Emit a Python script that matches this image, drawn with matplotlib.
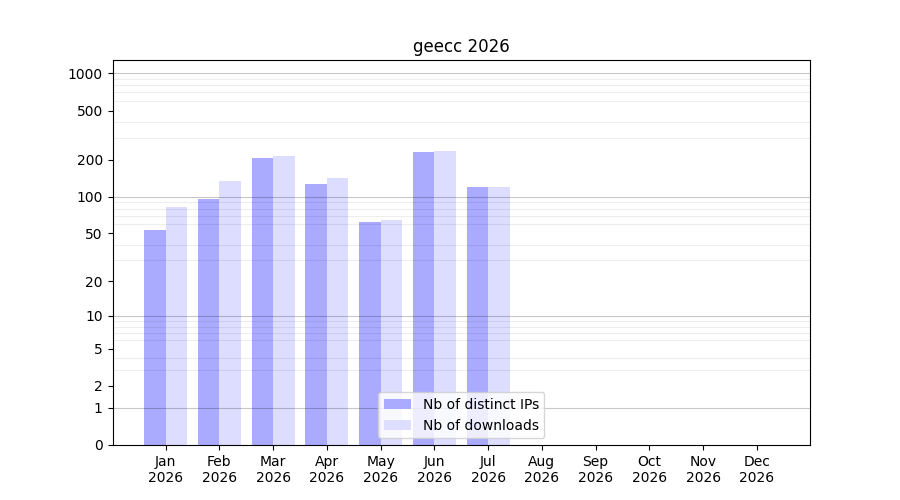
import numpy as np
import matplotlib
matplotlib.use("Agg")
import matplotlib.pyplot as plt
from matplotlib.ticker import FixedLocator, FixedFormatter, NullFormatter

months = ["Jan", "Feb", "Mar", "Apr", "May", "Jun", "Jul", "Aug", "Sep", "Oct", "Nov", "Dec"]
year = "2026"
ips = [53, 96, 205, 126, 62, 230, 119, 0, 0, 0, 0, 0]
downloads = [83, 133, 213, 141, 65, 234, 119, 0, 0, 0, 0, 0]
ytick_vals = [0, 1, 2, 5, 10, 20, 50, 100, 200, 500, 1000]

def fwd(v):
    return np.log10(np.asarray(v, dtype=float) + 1)

def inv(v):
    return 10 ** np.asarray(v, dtype=float) - 1

fig, ax = plt.subplots(figsize=(9, 5), dpi=100)
ax.set_yscale("function", functions=(fwd, inv))
x = np.arange(len(months))
ax.bar(x - 0.2, ips, width=0.4, color="#aaaaff", label="Nb of distinct IPs")
ax.bar(x + 0.2, downloads, width=0.4, color="#ddddff", label="Nb of downloads")
ax.set_xticks(x)
ax.set_xticklabels([f"{m}\n{year}" for m in months])
ax.set_ylim(0, 1280)
ax.yaxis.set_major_locator(FixedLocator(ytick_vals))
ax.yaxis.set_major_formatter(FixedFormatter([str(v) for v in ytick_vals]))
minor = [m * 10 ** d for d in range(0, 4) for m in range(2, 10) if m * 10 ** d <= 1280]
ax.yaxis.set_minor_locator(FixedLocator(minor))
ax.yaxis.set_minor_formatter(NullFormatter())
ax.tick_params(axis="y", which="minor", length=0)
ax.set_axisbelow(False)
ax.grid(True, axis="y", which="minor", color="k", alpha=0.07, linewidth=0.8)
for d in [1, 10, 100, 1000]:
    ax.axhline(d, color="k", alpha=0.22, linewidth=0.8, zorder=3)
ax.set_title(f"geecc {year}")
ax.legend(loc="lower center")
fig.savefig("out.png")
